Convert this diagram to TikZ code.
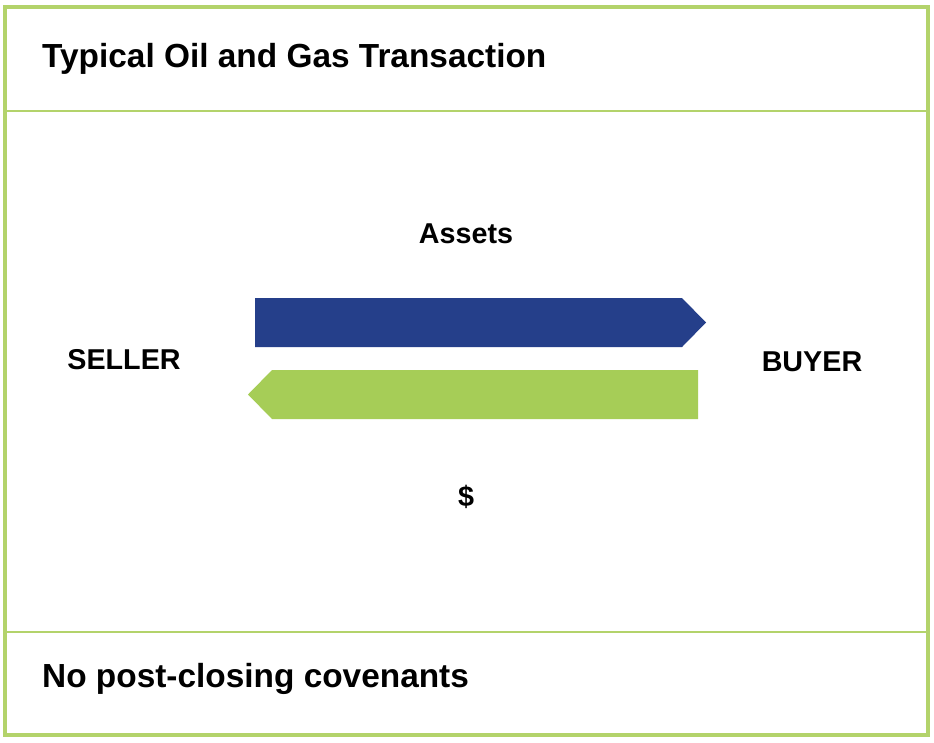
\documentclass[tikz,border=0pt]{standalone}
\usepackage{fontspec}
\setmainfont{Liberation Sans}
\definecolor{frame}{HTML}{B3D36B}
\definecolor{blu}{HTML}{253F8A}
\definecolor{grn}{HTML}{A6CD57}
\begin{document}
\begin{tikzpicture}[x=0.03cm,y=-0.03cm,
  lbl/.style={font=\fontsize{24.5}{28}\selectfont\bfseries,inner sep=0pt},
  hdr/.style={font=\fontsize{28.5}{32}\selectfont\bfseries,inner sep=0pt,anchor=west}]
\useasboundingbox (0,0) rectangle (934,742);
\fill[white] (0,0) rectangle (934,742);
\draw[frame,line width=4.5*0.03cm] (5,7) rectangle (928,735);
\draw[frame,line width=2.5*0.03cm] (5,111) -- (928,111);
\draw[frame,line width=2.5*0.03cm] (5,632) -- (928,632);
\node[hdr] (title) at (42,59) {Typical Oil and Gas Transaction};
\node[hdr] (foot) at (42,679) {No post-closing covenants};
\fill[blu] (255,298) -- (682,298) -- (706,322.5) -- (682,347) -- (255,347) -- cycle;
\fill[grn] (698,370) -- (272,370) -- (248,394.5) -- (272,419) -- (698,419) -- cycle;
\node[lbl] (assets) at (466,234) {Assets};
\node[lbl] (seller) at (124,360) {SELLER};
\node[lbl] (buyer) at (812,362) {BUYER};
\node[lbl] (usd) at (466,497) {\$};
\end{tikzpicture}
\end{document}
